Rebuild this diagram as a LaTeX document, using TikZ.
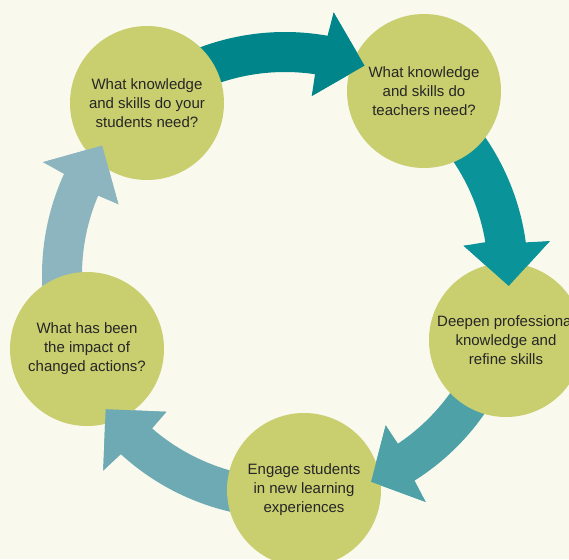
\documentclass[tikz,border=0pt]{standalone}
\usepackage{fontspec}
\setmainfont{Liberation Sans}
\definecolor{bgc}{HTML}{F9F9EE}
\definecolor{circ}{HTML}{C9CE6F}
\definecolor{aone}{HTML}{00868A}
\definecolor{atwo}{HTML}{0A9399}
\definecolor{athree}{HTML}{4FA1A8}
\definecolor{afour}{HTML}{6DAAB3}
\definecolor{afive}{HTML}{8CB5BF}
\definecolor{txt}{HTML}{262626}
\tikzset{
  bubble/.style={circle, fill=circ, minimum size=154pt, inner sep=0pt,
    align=center, text=txt, font=\fontsize{15}{19}\selectfont},
  ringscope/.style={shift={(ring)}, yscale=-1}
}
% #1 colour, #2 start angle, #3 base angle, #4 tip angle
\newcommand\ringbody[4]{%
  \begin{scope}[ringscope]
    \fill[#1] (#2:243) arc[start angle=#2, end angle={#3-1}, radius=243]
      -- ({#3-1}:267) -- (#4:224) -- ({#3+1}:181) -- ({#3+1}:203)
      arc[start angle={#3+1}, end angle=#2, radius=203] -- cycle;
  \end{scope}}
\newcommand\ringhead[3]{%
  \begin{scope}[ringscope]
    \fill[#1] ({#2-1}:267) -- (#3:224) -- ({#2+1}:181) -- cycle;
  \end{scope}}
\begin{document}
\begin{tikzpicture}[x=1pt,y=-1pt]
\fill[bgc] (0,0) rectangle (569,559);
\useasboundingbox (0,0) rectangle (569,559);
\coordinate (ring) at (285,275);

% arrow bodies (tails go under the circles)
\ringbody{aone}{126}{80.5}{69.2}
\ringbody{atwo}{50}{8.3}{-2.8}
\ringbody{athree}{-22}{-57.2}{-67.4}
\ringbody{afour}{-92}{-131.9}{-143.2}
\ringbody{afive}{198}{156}{144.7}

% circles
\node[bubble] (c1) at (147,103) {What knowledge\\and skills do your\\students need?};
\node[bubble] (c2) at (424,91) {What knowledge\\and skills do\\teachers need?};
\node[bubble] (c3) at (506,340) {Deepen professional\\knowledge and\\refine skills};
\node[bubble] (c4) at (304,490) {Engage students\\in new learning\\experiences};
\node[bubble] (c5) at (87,349) {What has been\\the impact of\\changed actions?};

% arrow heads on top of the target circles
\ringhead{aone}{80.5}{69.2}
\ringhead{atwo}{8.3}{-2.8}
\ringhead{athree}{-57.2}{-67.4}
\ringhead{afour}{-131.9}{-143.2}
\ringhead{afive}{156}{144.7}
\end{tikzpicture}
\end{document}
